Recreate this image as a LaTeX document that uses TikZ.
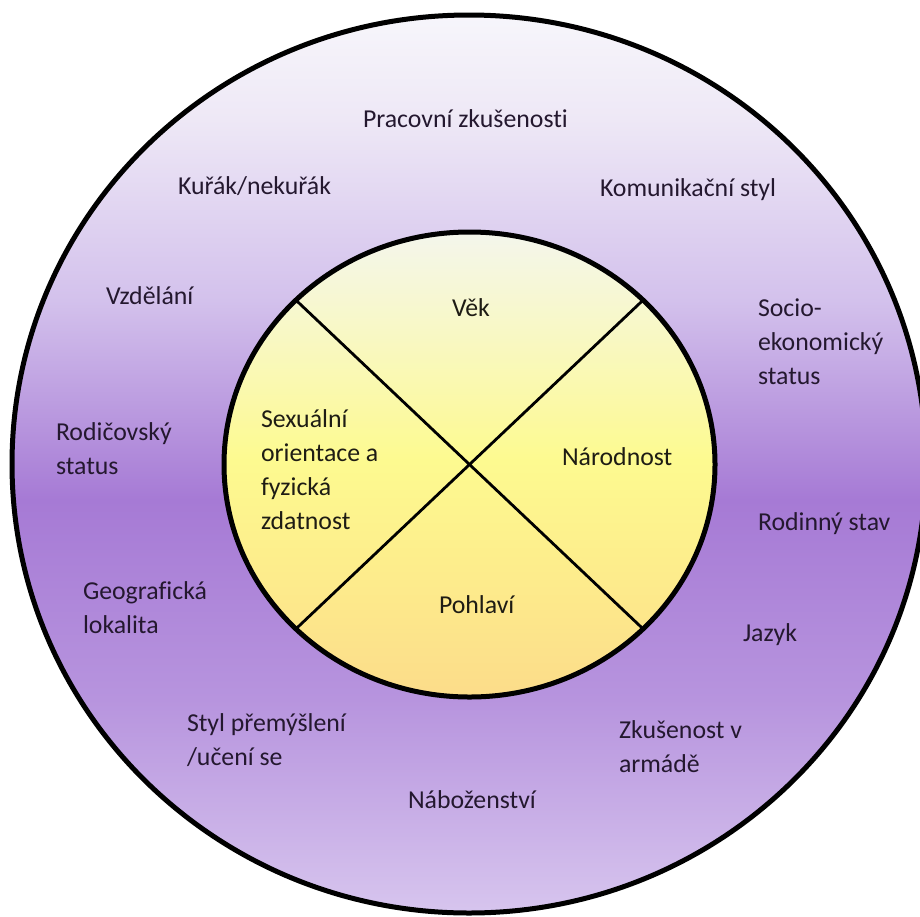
\documentclass[tikz,border=0pt]{standalone}
\usepackage{fontspec}
\setmainfont{Carlito}[Ligatures={NoCommon}]
\usetikzlibrary{shapes.geometric}

% ring colours, top to bottom
\definecolor{ringT}{HTML}{F7F6FB}
\definecolor{ringA}{HTML}{EEE8F6}
\definecolor{ringB}{HTML}{D3C1EC}
\definecolor{ringC}{HTML}{A67AD5}
\definecolor{ringD}{HTML}{B794DE}
\definecolor{ringE}{HTML}{D7C5EE}
% core colours, top to bottom
\definecolor{coreT}{HTML}{F4F6EC}
\definecolor{coreA}{HTML}{F8F8C6}
\definecolor{coreB}{HTML}{FDFA90}
\definecolor{coreC}{HTML}{FDEE8C}
\definecolor{coreD}{HTML}{FCDC8A}
\definecolor{outertext}{HTML}{24182F}
\definecolor{innertext}{HTML}{1E1C14}

\pgfdeclareverticalshading{ringshade}{100bp}{%
  color(0bp)=(ringE); color(25bp)=(ringE); color(36.9bp)=(ringD);
  color(48bp)=(ringC); color(59.1bp)=(ringB); color(69.2bp)=(ringA);
  color(75bp)=(ringT); color(100bp)=(ringT)}
\pgfdeclareverticalshading{coreshade}{100bp}{%
  color(0bp)=(coreD); color(25bp)=(coreD); color(39.7bp)=(coreC);
  color(50.5bp)=(coreB); color(64.5bp)=(coreA);
  color(75bp)=(coreT); color(100bp)=(coreT)}

\tikzset{
  disc/.style={ellipse, draw=black, line width=5pt, inner sep=0pt, outer sep=0pt, shade},
  divider/.style={draw=black, line width=2.8pt},
  % anchored at the baseline of the last line of each label
  lbl/.style={anchor=base west, inner sep=0pt, outer sep=0pt, align=left,
    font=\fontsize{25.8}{33.7}\selectfont},
  outerlbl/.style={lbl, text=outertext},
  innerlbl/.style={lbl, text=innertext}
}

\begin{document}
\begin{tikzpicture}[x=1pt, y=-1pt]
  \useasboundingbox (0,0) rectangle (920,916);

  % outer ring and inner core
  \node[disc, shading=ringshade, minimum width=914pt, minimum height=898pt] (ring) at (469,464) {};
  \node[disc, shading=coreshade, minimum width=491pt, minimum height=465pt] (core) at (469.5,464.5) {};

  % the cross dividing the core into four quarters
  \draw[divider] (core.north west) -- (core.south east);
  \draw[divider] (core.north east) -- (core.south west);

  % labels of the inner core
  \node[innerlbl] (vek) at (452,316) {Věk};
  \node[innerlbl] (narodnost) at (562,465) {Národnost};
  \node[innerlbl] (pohlavi) at (439,613) {Pohlaví};
  \node[innerlbl] (sexualni) at (261,529) {Sexuální\\orientace a\\fyzická\\zdatnost};

  % labels of the outer ring
  \node[outerlbl] (pracovni) at (363,127) {Pracovní zkušenosti};
  \node[outerlbl] (kurak) at (178,194) {Kuřák/nekuřák};
  \node[outerlbl] (komunikace) at (600,196) {Komunikační styl};
  \node[outerlbl] (vzdelani) at (106,304) {Vzdělání};
  \node[outerlbl] (socio) at (758,384) {Socio-\\ekonomický\\status};
  \node[outerlbl] (rodicovsky) at (56,474) {Rodičovský\\status};
  \node[outerlbl] (rodinny) at (758,530) {Rodinný stav};
  \node[outerlbl] (geografie) at (83,633) {Geografická\\lokalita};
  \node[outerlbl] (jazyk) at (743,641) {Jazyk};
  \node[outerlbl] (styl) at (187,765) {Styl přemýšlení\\/učení se};
  \node[outerlbl] (armada) at (619,772) {Zkušenost v\\armádě};
  \node[outerlbl] (nabozenstvi) at (408,808) {Náboženství};
\end{tikzpicture}
\end{document}
